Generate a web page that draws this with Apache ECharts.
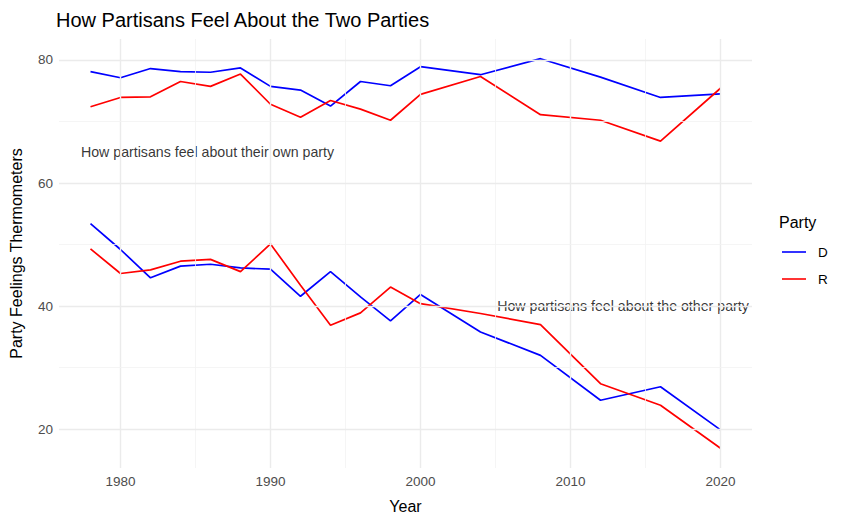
<!DOCTYPE html>
<html><head><meta charset="utf-8">
<script src="https://cdn.jsdelivr.net/npm/echarts@6/dist/echarts.min.js"></script>
<style>html,body{margin:0;padding:0;background:#fff}#c{width:847px;height:523px}</style>
</head><body><div id="c"></div>
<script>
const years = [1978,1980,1982,1984,1986,1988,1990,1992,1994,1996,1998,2000,2004,2008,2012,2016,2020];
const dOwn   = [78.1,77.1,78.6,78.1,78.0,78.7,75.7,75.1,72.5,76.5,75.8,78.9,77.6,80.2,77.2,73.9,74.5];
const rOwn   = [72.4,73.9,74.0,76.5,75.7,77.7,72.8,70.7,73.4,72.0,70.2,74.4,77.3,71.1,70.2,66.8,75.4];
const dOther = [53.4,49.2,44.6,46.5,46.8,46.2,46.0,41.6,45.6,41.5,37.6,41.9,35.8,32.0,24.7,26.9,19.9];
const rOther = [49.3,45.3,45.9,47.3,47.6,45.6,50.1,43.4,36.9,38.9,43.1,40.4,38.8,37.0,27.4,23.9,16.9];
const xTicks = [1980,1990,2000,2010,2020];
const xMinor = [1985,1995,2005,2015];
const yTicks = [20,40,60,80];
const yMinor = [30,50,70];
const annotations = [
  {text:'How partisans feel about their own party', x:1985.8, y:65},
  {text:'How partisans feel about the other party', x:2013.5, y:40}
];

const FONT = 'Liberation Sans, Arial, sans-serif';
const pair = (ys) => years.map((y,i)=>[y, ys[i]]);
const major = {color:'#ebebeb', width:1.4, type:'solid'};
const minor = {color:'#f3f3f3', width:0.8, type:'solid'};
const gridLines = [
  ...xTicks.map(v=>({xAxis:v, lineStyle:major})),
  ...xMinor.map(v=>({xAxis:v, lineStyle:minor})),
  ...yTicks.map(v=>({yAxis:v, lineStyle:major})),
  ...yMinor.map(v=>({yAxis:v, lineStyle:minor}))
];

const lineSeries = (name, data, color) => ({
  type:'line', name, data:pair(data), showSymbol:false, symbol:'none',
  lineStyle:{color, width:1.7}, itemStyle:{color}, z:3, silent:true, animation:false
});

const chart = echarts.init(document.getElementById('c'), null, {renderer:'svg'});
chart.setOption({
  animation:false,
  backgroundColor:'#fff',
  title:[
    {text:'How Partisans Feel About the Two Parties', left:51, top:5,
     textStyle:{fontFamily:FONT, fontSize:20, fontWeight:'normal', color:'#000'}},
    {text:'Party', left:774, top:209,
     textStyle:{fontFamily:FONT, fontSize:16, fontWeight:'normal', color:'#000'}}
  ],
  legend:{
    data:['D','R'], orient:'vertical', left:777, top:240, itemGap:13,
    itemWidth:24, itemHeight:17,
    icon:'path://M0,7.7H24V9.3H0Z',
    textStyle:{fontFamily:FONT, fontSize:13.5, color:'#000', padding:[0,0,0,7]}
  },
  grid:{left:56, right:95, top:39, bottom:55},
  xAxis:{
    type:'value', min:1975.9, max:2022.1,
    name:'Year', nameLocation:'middle', nameGap:30,
    nameTextStyle:{fontFamily:FONT, fontSize:16, color:'#000'},
    axisLine:{show:false}, axisTick:{show:false}, splitLine:{show:false},
    axisLabel:{customValues:xTicks, formatter:(v)=>String(v), color:'#4d4d4d', fontFamily:FONT, fontSize:13.5, margin:6}
  },
  yAxis:{
    type:'value', min:13.7, max:83.4,
    name:'Party Feelings Thermometers', nameLocation:'middle', nameGap:35, nameRotate:90,
    nameTextStyle:{fontFamily:FONT, fontSize:16, color:'#000'},
    axisLine:{show:false}, axisTick:{show:false}, splitLine:{show:false},
    axisLabel:{customValues:yTicks, color:'#4d4d4d', fontFamily:FONT, fontSize:13.5, margin:6}
  },
  series:[
    {type:'line', data:[], silent:true, z:1,
     markLine:{silent:true, symbol:['none','none'], label:{show:false}, animation:false, data:gridLines}},
    lineSeries('D', dOwn, '#0000ff'),
    lineSeries('R', rOwn, '#ff0000'),
    lineSeries('D', dOther, '#0000ff'),
    lineSeries('R', rOther, '#ff0000'),
    {type:'scatter', name:'ann', symbolSize:0, silent:true, z:4,
     data:annotations.map(a=>({value:[a.x,a.y], label:{show:true, formatter:a.text}})),
     label:{position:'inside', color:'#000', textBorderWidth:0, fontFamily:FONT, fontSize:14.2}}
  ]
});
</script></body></html>
